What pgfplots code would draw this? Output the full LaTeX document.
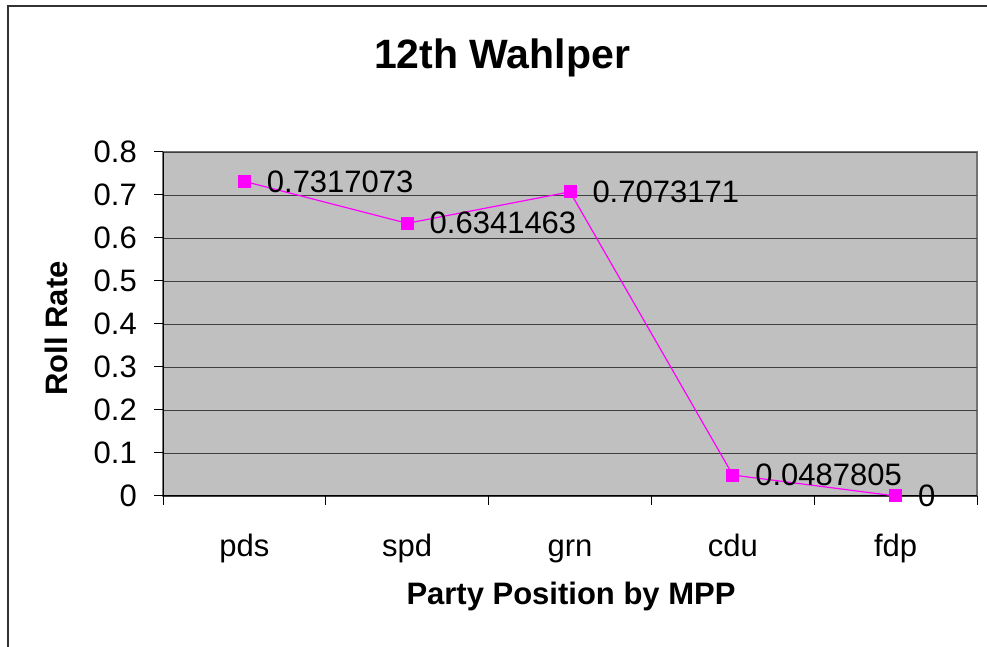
\documentclass[border=0pt]{standalone}
\usepackage{pgfplots}
\pgfplotsset{compat=1.18}
\usepackage{fontspec}
\setmainfont{Liberation Sans}
\definecolor{plotgray}{HTML}{C0C0C0}
\definecolor{mag}{HTML}{FF00FF}
\begin{document}
\begin{tikzpicture}[x=1pt,y=1pt]
\path[use as bounding box] (0,0) rectangle (987,647);
\fill[white] (0,0) rectangle (987,647);
\draw[line width=1.5pt, black!80] (8,0) -- (8,641) -- (987,641);
\begin{axis}[
  at={(163pt,151pt)}, anchor=south west,
  scale only axis, width=814pt, height=344pt,
  xmin=0.5, xmax=5.5, ymin=0, ymax=0.8,
  clip=false,
  axis background/.style={fill=plotgray, draw=gray!90!black, line width=1.2pt},
  axis x line*=bottom, axis y line*=left,
  axis line style={black, line width=1pt, -},
  ytick={0,0.1,0.2,0.3,0.4,0.5,0.6,0.7,0.8},
  yticklabels={0,0.1,0.2,0.3,0.4,0.5,0.6,0.7,0.8},
  xtick={0.5,1.5,2.5,3.5,4.5,5.5},
  x tick label as interval,
  xticklabels={pds,spd,grn,cdu,fdp},
  tick align=outside,
  major tick length=9pt,
  tick style={black, line width=1pt},
  ymajorgrids=true,
  major grid style={black!75, line width=0.8pt},
  /pgf/number format/assume math mode=true,
  tick label style={font=\fontsize{31}{36}\selectfont, inner sep=0pt},
  yticklabel style={anchor=base east, xshift=-17pt, yshift=-11pt},
  xticklabel style={anchor=base, yshift=-52pt},
  nodes near coords,
  point meta=explicit symbolic,
  every node near coord/.append style={anchor=west, inner sep=0pt, xshift=22pt, yshift=0pt, font=\fontsize{31}{36}\selectfont, text=black},
]
\addplot[mag, line width=1.2pt, mark=square*, mark size=6pt, mark options={fill=mag, draw=mag, line width=1pt}] table[meta=label] {
x y label
1 0.7317073 0.7317073
2 0.6341463 0.6341463
3 0.7073171 0.7073171
4 0.0487805 0.0487805
5 0 0
};
\end{axis}
\node[font=\bfseries\fontsize{41}{48}\selectfont, anchor=base] at (502,578) {12th Wahlper};
\node[font=\bfseries\fontsize{31}{36}\selectfont, anchor=base] at (571,42) {Party Position by MPP};
\node[font=\bfseries\fontsize{31}{36}\selectfont, anchor=base, rotate=90] at (67,318.5) {Roll Rate};
\end{tikzpicture}
\end{document}
